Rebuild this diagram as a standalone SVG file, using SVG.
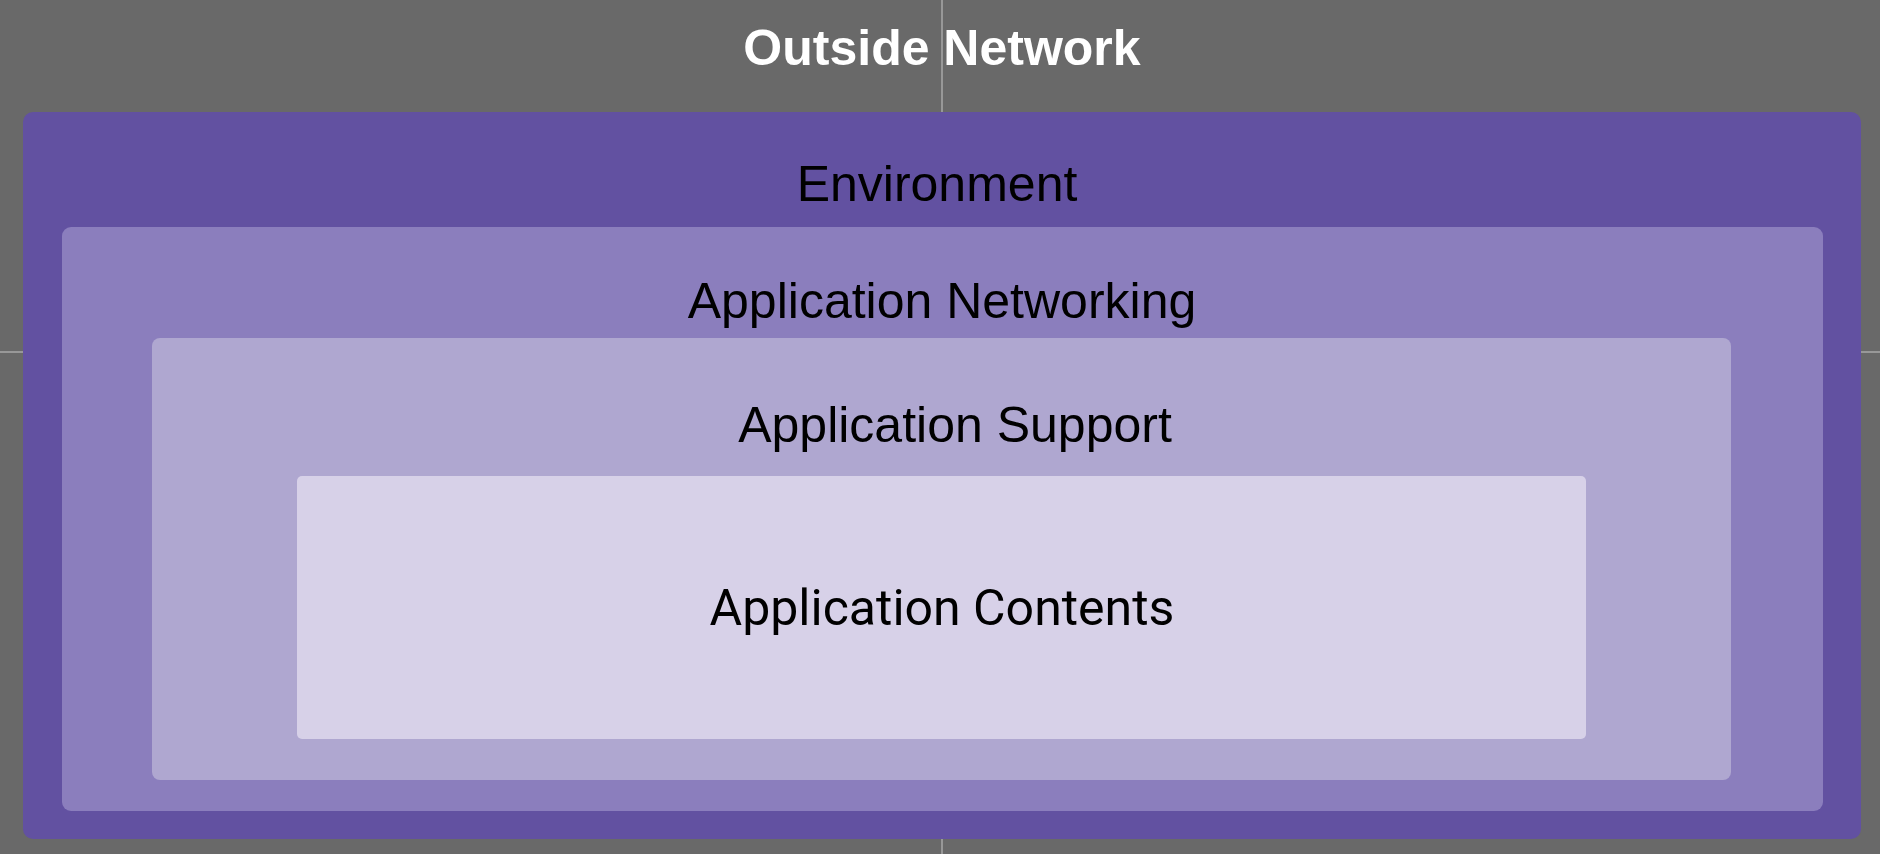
<svg xmlns="http://www.w3.org/2000/svg" width="1880" height="854" viewBox="0 0 1880 854">
<style>
.lbl{font-family:"Liberation Sans",Arial,sans-serif;font-size:50px;fill:#000;text-anchor:middle}
.title{font-family:"Liberation Sans",Arial,sans-serif;font-size:50px;font-weight:bold;fill:#fff;text-anchor:middle}
.guide{stroke:#a8a8a8;stroke-width:1.5}
</style>
<rect width="1880" height="854" fill="#696969"/>
<g id="guides">
<line class="guide" x1="942" y1="0" x2="942" y2="854"/>
<line class="guide" x1="0" y1="352" x2="1880" y2="352"/>
</g>
<text class="title" x="942" y="65">Outside Network</text>
<g id="environment">
<rect x="23" y="112" width="1838" height="727" rx="10" fill="#6251a1"/>
<text class="lbl" x="937" y="201">Environment</text>
</g>
<g id="application-networking">
<rect x="62" y="227" width="1761" height="584" rx="9" fill="#8b7ebd"/>
<text class="lbl" x="942" y="318">Application Networking</text>
</g>
<g id="application-support">
<rect x="152" y="338" width="1579" height="442" rx="8" fill="#afa7d0"/>
<text class="lbl" x="955" y="442">Application Support</text>
</g>
<g id="application-contents">
<rect x="297" y="476" width="1289" height="263" rx="5" fill="#d7d1e8"/>
<text class="lbl" x="942" y="625" style="font-family:Roboto,'Liberation Sans',sans-serif">Application Contents</text>
</g>
<g id="connectors"/>
</svg>
